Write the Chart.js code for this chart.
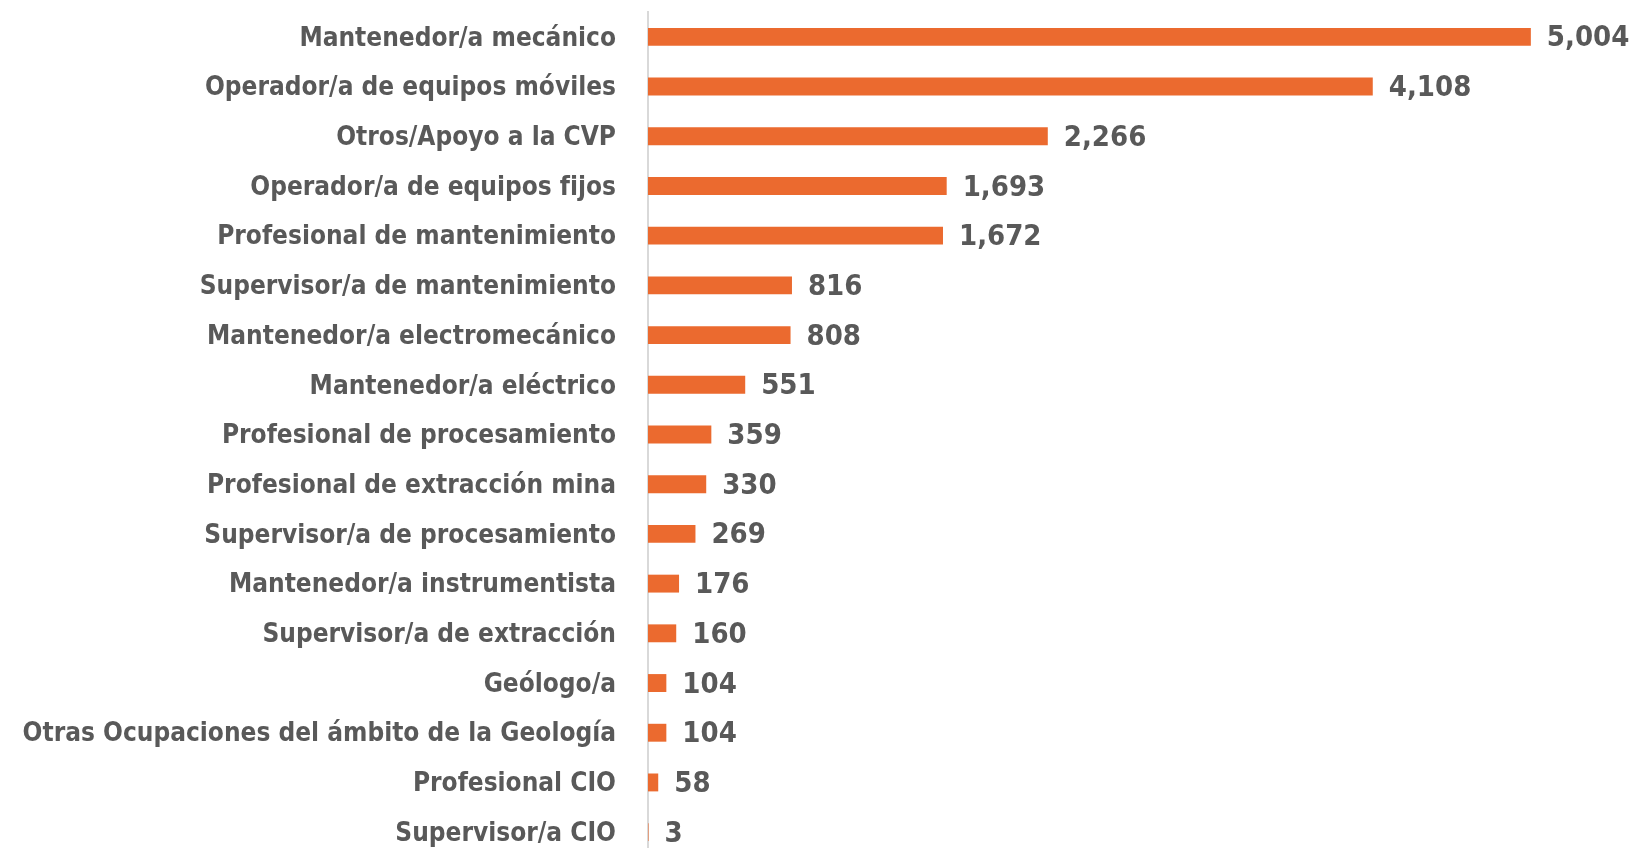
<!DOCTYPE html>
<html lang="es">
<head>
<meta charset="utf-8">
<title>Ocupaciones</title>
<script src="https://cdn.jsdelivr.net/npm/chart.js@4"></script>
<style>
  html, body { margin: 0; padding: 0; background: #fff; overflow: hidden; }
  #wrap { position: relative; width: 1637px; height: 857px; }
</style>
</head>
<body>
<div id="wrap"><canvas id="ocupacionesChart"></canvas></div>
<script>
// datos del gráfico
const ocupaciones = [
  'Mantenedor/a mecánico',
  'Operador/a de equipos móviles',
  'Otros/Apoyo a la CVP',
  'Operador/a de equipos fijos',
  'Profesional de mantenimiento',
  'Supervisor/a de mantenimiento',
  'Mantenedor/a electromecánico',
  'Mantenedor/a eléctrico',
  'Profesional de procesamiento',
  'Profesional de extracción mina',
  'Supervisor/a de procesamiento',
  'Mantenedor/a instrumentista',
  'Supervisor/a de extracción',
  'Geólogo/a',
  'Otras Ocupaciones del ámbito de la Geología',
  'Profesional CIO',
  'Supervisor/a CIO'
];
const cantidades = [5004, 4108, 2266, 1693, 1672, 816, 808, 551, 359, 330, 269, 176, 160, 104, 104, 58, 3];

const FUENTE = '"DejaVu Sans Condensed", "Liberation Sans Narrow", sans-serif';
const GRIS = '#595959';

document.addEventListener('DOMContentLoaded', function() {
  initChart();
});

/**
 * etiquetas de valor al final de cada barra
 */
const valueLabels = {
  id: 'valueLabels',
  afterDatasetsDraw(chart) {
    const ctx = chart.ctx;
    const meta = chart.getDatasetMeta(0);
    ctx.save();
    ctx.font = 'bold 29px ' + FUENTE;
    ctx.fillStyle = GRIS;
    ctx.textAlign = 'left';
    ctx.textBaseline = 'middle';
    meta.data.forEach(function(bar, i) {
      ctx.fillText(cantidades[i].toLocaleString('en-US'), bar.x + 16, bar.y + 2);
    });
    ctx.restore();
  }
};

function initChart() {
  const ctx = document.getElementById('ocupacionesChart');

  new Chart(ctx, {
    type: 'bar',
    data: {
      labels: ocupaciones,
      datasets: [{
        data: cantidades,
        backgroundColor: '#EB6A2F',
        barPercentage: 0.36,
        categoryPercentage: 1
      }]
    },
    options: {
      indexAxis: 'y',
      responsive: true,
      maintainAspectRatio: false,
      animation: false,
      layout: {
        padding: { top: 12, right: 1, bottom: 0, left: 0 }
      },
      scales: {
        x: {
          display: false,
          min: 0,
          max: 5600
        },
        y: {
          afterFit: function(scale) {
            // ancho fijo del eje y sin relleno extra arriba/abajo
            scale.width = 648;
            scale.paddingTop = 0;
            scale.paddingBottom = 0;
          },
          grid: { display: false, drawTicks: false },
          border: { display: true, color: '#d9d9d9', width: 2 },
          ticks: {
            padding: 32,
            labelOffset: 2,
            color: GRIS,
            font: { family: FUENTE, size: 26, weight: 'bold' }
          }
        }
      },
      plugins: {
        legend: { display: false },
        tooltip: { enabled: false }
      }
    },
    plugins: [valueLabels]
  });
}
</script>
</body>
</html>
